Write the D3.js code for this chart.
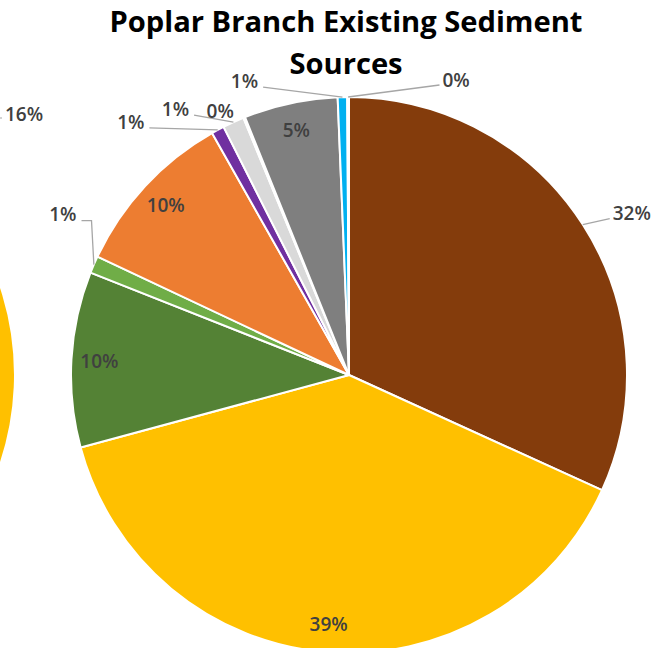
<!DOCTYPE html>
<html>
<head>
<meta charset="utf-8">
<script src="https://cdn.jsdelivr.net/npm/d3@7"></script>
<style>
  html, body { margin: 0; padding: 0; background: #fff; }
  svg { display: block; }
</style>
</head>
<body>
<svg id="chart" width="656" height="648"></svg>
<script>
// Sediment source shares (percent of total load), clockwise from 12 o'clock
const sources = [
  "Streambank Erosion", "Cropland", "Pasture", "Hay", "Forest", "Developed",
  "Roads", "Wetland", "Gullies", "Barren", "Open Water"
];
const shares = [31.8, 39.0, 10.2, 1.0, 9.8, 0.75, 1.25, 0.1, 5.45, 0.55, 0.1];
const colors = [
  "#843C0C", "#FFC000", "#548235", "#70AD47", "#ED7D31", "#7030A0",
  "#D9D9D9", "#A5A5A5", "#7F7F7F", "#00B0F0", "#4472C4"
];
const titleLines = ["Poplar Branch Existing Sediment", "Sources"];

// Neighbouring chart that sits just off the left edge
const neighbourLabel = "16%";
const neighbourColor = "#FFC000";

// Label placement: "in" = inside the slice; otherwise offset from the slice's rim point
const labelLayout = [
  { pos: "out", dx: 49, dy: -11 },
  { pos: "in" },
  { pos: "in" },
  { pos: "out", dx: -31, dy: -50, elbow: true },
  { pos: "in" },
  { pos: "out", dx: -87, dy: -8 },
  { pos: "out", dx: -58, dy: -13 },
  { pos: "out", dx: -24, dy: -6, noLeader: true },
  { pos: "in" },
  { pos: "out", dx: -98, dy: -16 },
  { pos: "out", dx: 108, dy: -17 }
];

const svg = d3.select("#chart");
const cx = 349, cy = 375, R = 278, labelR = 250;
const fontLabel = "'Open Sans', 'DejaVu Sans', sans-serif";
const labelWeight = 600;

const total = d3.sum(shares);
const fmt = d3.format(".0%");

// Neighbouring pie edge
const nArc = d3.arc().innerRadius(0).outerRadius(R);
svg.append("path")
  .attr("transform", `translate(${-263},${cy})`)
  .attr("d", nArc({ startAngle: 55 * Math.PI / 180, endAngle: 130 * Math.PI / 180 }))
  .attr("fill", neighbourColor)
  .attr("stroke", "#fff")
  .attr("stroke-width", 2);
svg.append("text")
  .attr("x", 24).attr("y", 114).attr("dy", "0.36em")
  .attr("text-anchor", "middle")
  .attr("font-family", fontLabel).attr("font-size", 19)
  .attr("font-weight", labelWeight)
  .attr("fill", "#404040")
  .text(neighbourLabel);
svg.append("line")
  .attr("x1", -6).attr("y1", 118).attr("x2", 2).attr("y2", 118)
  .attr("stroke", "#A6A6A6").attr("stroke-width", 1.2);

// Main pie
const pie = d3.pie().sort(null).value(d => d);
const arcs = pie(shares);
const arc = d3.arc().innerRadius(0).outerRadius(R);

const g = svg.append("g").attr("transform", `translate(${cx},${cy})`);

g.selectAll("path.slice")
  .data(arcs)
  .join("path")
  .attr("class", "slice")
  .attr("d", arc)
  .attr("fill", (d, i) => colors[i])
  .attr("stroke", "#fff")
  .attr("stroke-width", 2)
  .attr("stroke-linejoin", "round");

// Data labels
const polar = (r, a) => [r * Math.sin(a), -r * Math.cos(a)];

arcs.forEach((d, i) => {
  const lay = labelLayout[i];
  const mid = (d.startAngle + d.endAngle) / 2;
  const txt = fmt(d.value / total);
  let lx, ly;
  if (lay.pos === "in") {
    [lx, ly] = polar(labelR, mid);
  } else {
    const [ax, ay] = polar(R, mid);
    lx = ax + lay.dx; ly = ay + lay.dy;
  }
  const t = g.append("text")
    .attr("x", lx).attr("y", ly).attr("dy", "0.36em")
    .attr("text-anchor", "middle")
    .attr("font-family", fontLabel).attr("font-size", 19)
    .attr("font-weight", labelWeight)
    .attr("fill", "#404040")
    .text(txt);

  if (lay.pos === "out" && !lay.noLeader) {
    const [ax, ay] = polar(R, mid);
    const w = t.node().getComputedTextLength();
    const pts = [];
    if (lx < ax) {
      const sx = lx + w / 2 + 5, sy = ly + 6;
      pts.push([sx, sy]);
      if (lay.elbow) pts.push([sx + 10, sy]);
    } else {
      pts.push([lx - w / 2 - 3, ly + 5]);
    }
    pts.push([ax, ay]);
    g.append("path")
      .attr("d", d3.line()(pts))
      .attr("fill", "none")
      .attr("stroke", "#A6A6A6")
      .attr("stroke-width", 1.3);
  }
});

// Title
const title = svg.append("g")
  .attr("font-family", fontLabel)
  .attr("font-weight", 700)
  .attr("font-size", 28)
  .attr("fill", "#000")
  .attr("text-anchor", "middle");
const t1 = title.append("text").attr("x", 346).attr("y", 32).text(titleLines[0]);
const t2 = title.append("text").attr("x", 346).attr("y", 74).text(titleLines[1]);
const squeeze = 473 / t1.node().getComputedTextLength();
t1.attr("textLength", 473).attr("lengthAdjust", "spacingAndGlyphs");
t2.attr("textLength", t2.node().getComputedTextLength() * squeeze)
  .attr("lengthAdjust", "spacingAndGlyphs");
</script>
</body>
</html>
